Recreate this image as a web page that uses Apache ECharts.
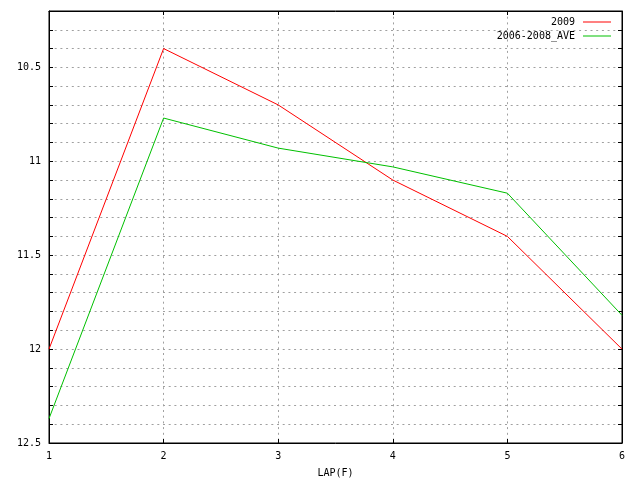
<!DOCTYPE html>
<html>
<head>
<meta charset="utf-8">
<script src="https://cdn.jsdelivr.net/npm/echarts@6/dist/echarts.min.js"></script>
<style>html,body{margin:0;padding:0;background:#fff}#c{width:640px;height:480px}</style>
</head>
<body>
<div id="c"></div>
<script>
var laps = [1, 2, 3, 4, 5, 6];
var series2009 = [12.0, 10.4, 10.7, 11.1, 11.4, 12.0];
var seriesAve = [12.37, 10.77, 10.93, 11.03, 11.17, 11.82];
var seriesNames = ['2009', '2006-2008_AVE'];
var xName = 'LAP(F)';

var FONT = 'DejaVu Sans Mono';
function pairs(xs, ys) { return xs.map(function (x, i) { return [x, ys[i]]; }); }
function yLabel(v) {
  var d = v * 2;
  if (Math.abs(d - Math.round(d)) > 1e-6 || v < 10.3) return '';
  return String(Math.round(v * 10) / 10);
}
var gridLine = { show: true, lineStyle: { color: '#a0a0a0', type: [2, 3.7], width: 1 } };
var tick = { show: true, inside: true, length: 4, lineStyle: { color: '#000' } };
var axisLine = { show: true, lineStyle: { color: '#000', width: 1 } };

var chart = echarts.init(document.getElementById('c'), null, { renderer: 'canvas' });
chart.setOption({
  animation: false,
  backgroundColor: '#fff',
  textStyle: { fontFamily: FONT },
  grid: { left: 49, right: 18, top: 11, bottom: 37, show: true, borderColor: '#000', borderWidth: 1, containLabel: false, outerBoundsMode: 'none' },
  legend: {
    orient: 'vertical', right: 24, top: 12, align: 'right',
    icon: 'rect', itemWidth: 28, itemHeight: 1, itemGap: 4,
    textStyle: { fontFamily: FONT, fontSize: 10, color: '#000', padding: [0, 3, 0, 0] },
    data: seriesNames
  },
  xAxis: [{
    type: 'value', min: 1, max: 6, interval: 1, position: 'bottom',
    name: xName, nameLocation: 'middle', nameGap: 25,
    nameTextStyle: { fontFamily: FONT, fontSize: 10, color: '#000' },
    axisLine: axisLine, axisTick: tick, splitLine: gridLine,
    axisLabel: { fontFamily: FONT, fontSize: 10, color: '#000', margin: 8 }
  }, {
    type: 'value', min: 1, max: 6, interval: 1, position: 'top',
    axisLine: axisLine, axisTick: tick, splitLine: { show: false }, axisLabel: { show: false }
  }],
  yAxis: [{
    type: 'value', inverse: true, min: 10.2, max: 12.5, interval: 0.1, position: 'left',
    axisLine: axisLine, axisTick: tick, splitLine: gridLine,
    axisLabel: { fontFamily: FONT, fontSize: 10, color: '#000', margin: 8, formatter: yLabel, showMinLabel: true, showMaxLabel: true }
  }, {
    type: 'value', inverse: true, min: 10.2, max: 12.5, interval: 0.1, position: 'right',
    axisLine: axisLine, axisTick: tick, splitLine: { show: false }, axisLabel: { show: false }
  }],
  series: [{
    name: seriesNames[0], type: 'line', symbol: 'none', data: pairs(laps, series2009),
    lineStyle: { color: '#ff0000', width: 1 }, itemStyle: { color: '#ff0000' }
  }, {
    name: seriesNames[1], type: 'line', symbol: 'none', data: pairs(laps, seriesAve),
    lineStyle: { color: '#00c000', width: 1 }, itemStyle: { color: '#00c000' }
  }]
});
</script>
</body>
</html>
